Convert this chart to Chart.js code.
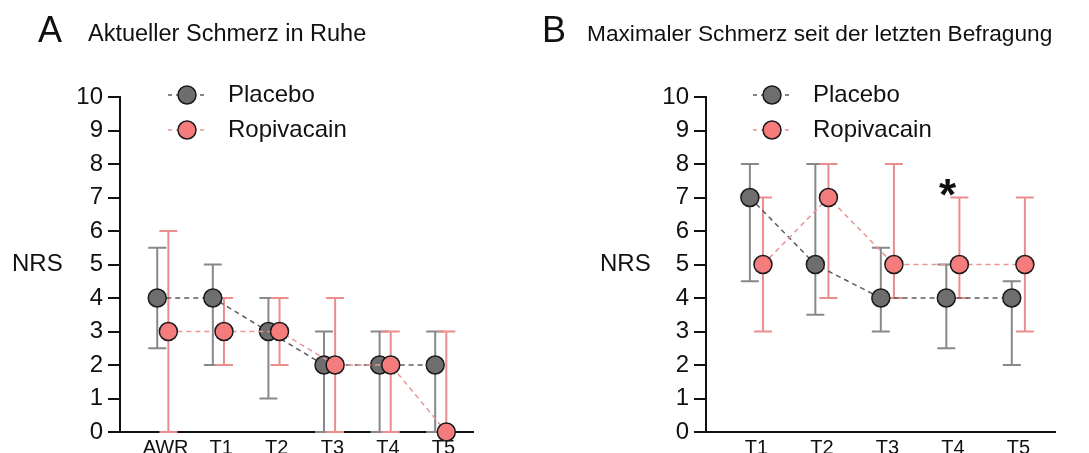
<!DOCTYPE html>
<html>
<head>
<meta charset="utf-8">
<script src="https://cdn.jsdelivr.net/npm/chart.js@4/dist/chart.umd.min.js"></script>
<style>
    body { margin: 0; background: #fff; }
    #wrap { position: relative; width: 1089px; height: 453px; overflow: hidden; }
    canvas { position: absolute; top: 0; }
</style>
</head>
<body>
<div id="wrap">
    <canvas id="chartA" width="540" height="453" style="left:0"></canvas>
    <canvas id="chartB" width="549" height="453" style="left:540px"></canvas>
</div>
<script>
// Panel A - Aktueller Schmerz in Ruhe
const catsA = ['AWR', 'T1', 'T2', 'T3', 'T4', 'T5'];
const placeboA = [4, 4, 3, 2, 2, 2];
const placeboALow = [2.5, 2, 1, 0, 0, 0];
const placeboAHigh = [5.5, 5, 4, 3, 3, 3];
const ropiA = [3, 3, 3, 2, 2, 0];
const ropiALow = [0, 2, 2, 0, 0, 0];
const ropiAHigh = [6, 4, 4, 4, 3, 3];

// Panel B - Maximaler Schmerz seit der letzten Befragung
const catsB = ['T1', 'T2', 'T3', 'T4', 'T5'];
const placeboB = [7, 5, 4, 4, 4];
const placeboBLow = [4.5, 3.5, 3, 2.5, 2];
const placeboBHigh = [8, 8, 5.5, 5, 4.5];
const ropiB = [5, 7, 5, 5, 5];
const ropiBLow = [3, 4, 4, 4, 3];
const ropiBHigh = [7, 8, 8, 7, 7];
const starsB = [[3, 7.35]]; // significance mark: category index, NRS level

const yTicks = [0, 1, 2, 3, 4, 5, 6, 7, 8, 9, 10];

const FONT = "'Liberation Sans', Arial, sans-serif";
const INK = '#111';
const placeboStyle = { fill: '#6e6e6e', line: '#5c5c5c', err: '#888888' };
const ropiStyle = { fill: '#f47c7c', line: '#e99595', err: '#eb8d8d' };

// draws error bars under the points
const errorBars = {
    id: 'errorBars',
    beforeDatasetsDraw(chart) {
        const ctx = chart.ctx;
        const y = chart.scales.y;
        chart.data.datasets.forEach((ds, di) => {
            const meta = chart.getDatasetMeta(di);
            ctx.save();
            ctx.strokeStyle = ds.errColor;
            ctx.lineWidth = 2;
            meta.data.forEach((pt, i) => {
                const lo = y.getPixelForValue(ds.errLow[i]);
                const hi = y.getPixelForValue(ds.errHigh[i]);
                ctx.beginPath();
                ctx.moveTo(pt.x, lo);
                ctx.lineTo(pt.x, hi);
                ctx.moveTo(pt.x - 9, lo);
                ctx.lineTo(pt.x + 9, lo);
                ctx.moveTo(pt.x - 9, hi);
                ctx.lineTo(pt.x + 9, hi);
                ctx.stroke();
            });
            ctx.restore();
        });
    }
};

// titles, NRS label, legend, asterisk
const decorations = {
    id: 'decorations',
    afterDraw(chart, args, opts) {
        const ctx = chart.ctx;
        const x = chart.scales.x;
        const y = chart.scales.y;
        ctx.save();
        ctx.fillStyle = INK;
        ctx.textBaseline = 'alphabetic';
        ctx.textAlign = 'left';
        ctx.font = `36px ${FONT}`;
        ctx.fillText(opts.letter, opts.letterX, 42);
        ctx.font = `${opts.titleSize}px ${FONT}`;
        ctx.fillText(opts.title, opts.titleX, 41);

        ctx.font = `24px ${FONT}`;
        ctx.textBaseline = 'middle';
        ctx.fillText('NRS', opts.nrsX, y.getPixelForValue(5));

        // legend
        chart.data.datasets.forEach((ds, i) => {
            const ly = 95 + i * 35;
            ctx.save();
            ctx.strokeStyle = ds.borderColor;
            ctx.lineWidth = 1.5;
            ctx.setLineDash([4, 4]);
            ctx.beginPath();
            ctx.moveTo(opts.legendX - 19, ly);
            ctx.lineTo(opts.legendX + 20, ly);
            ctx.stroke();
            ctx.setLineDash([]);
            ctx.beginPath();
            ctx.arc(opts.legendX, ly, 9, 0, Math.PI * 2);
            ctx.fillStyle = ds.pointBackgroundColor;
            ctx.fill();
            ctx.strokeStyle = '#1a1a1a';
            ctx.lineWidth = 1.5;
            ctx.stroke();
            ctx.restore();
            ctx.font = `24px ${FONT}`;
            ctx.fillText(ds.label, opts.legendX + 41, ly);
        });

        (opts.stars || []).forEach(s => {
            const px = x.getPixelForValue(s[0] - 0.08);
            const py = y.getPixelForValue(s[1]);
            ctx.font = `bold 44px ${FONT}`;
            ctx.textAlign = 'center';
            ctx.textBaseline = 'alphabetic';
            ctx.fillText('*', px, py + 24);
        });
        ctx.restore();
    }
};

function makePanel(id, cats, series, cfg) {
    const datasets = series.map(s => ({
        label: s.label,
        data: s.values.map((v, i) => ({ x: i + s.shift, y: v })),
        errLow: s.low,
        errHigh: s.high,
        errColor: s.style.err,
        borderColor: s.style.line,
        borderWidth: 1.5,
        borderDash: [5, 4],
        pointBackgroundColor: s.style.fill,
        pointBorderColor: '#1a1a1a',
        pointBorderWidth: 1.5,
        pointRadius: 9,
        showLine: true,
        clip: false,
        order: s.order
    }));

    return new Chart(document.getElementById(id), {
        type: 'scatter',
        data: { datasets },
        options: {
            responsive: false,
            animation: false,
            events: [],
            layout: { padding: { left: 0, right: cfg.rightPad, top: 97, bottom: 0 } },
            plugins: {
                legend: { display: false },
                tooltip: { enabled: false },
                decorations: cfg.deco
            },
            scales: {
                x: {
                    type: 'linear',
                    min: cfg.xMin,
                    max: cfg.xMax,
                    afterFit: s => { s.height = 21; },
                    afterBuildTicks: s => { s.ticks = cats.map((c, i) => ({ value: i + cfg.tickShift })); },
                    ticks: {
                        callback: (v, i) => cats[i],
                        font: { size: 20, family: FONT },
                        color: INK,
                        padding: 4,
                        maxRotation: 0,
                        autoSkip: false
                    },
                    grid: { display: false, drawTicks: false },
                    border: { display: true, color: INK, width: 2 }
                },
                y: {
                    min: 0,
                    max: 10,
                    afterFit: s => { s.width = cfg.yWidth; },
                    afterBuildTicks: s => { s.ticks = yTicks.map(v => ({ value: v })); },
                    ticks: { font: { size: 24, family: FONT }, color: INK, padding: 5 },
                    grid: { drawOnChartArea: false, drawTicks: true, tickLength: 12, color: INK, lineWidth: 2 },
                    border: { color: INK, width: 2 }
                }
            }
        },
        plugins: [errorBars, decorations]
    });
}

makePanel('chartA', catsA, [
    { label: 'Placebo', values: placeboA, low: placeboALow, high: placeboAHigh, style: placeboStyle, shift: -0.1, order: 1 },
    { label: 'Ropivacain', values: ropiA, low: ropiALow, high: ropiAHigh, style: ropiStyle, shift: 0.1, order: 0 }
], {
    xMin: -0.77, xMax: 5.58, tickShift: 0.05, yWidth: 120, rightPad: 67,
    deco: { letter: 'A', letterX: 38, title: 'Aktueller Schmerz in Ruhe', titleX: 88, titleSize: 23.5, nrsX: 12, legendX: 187 }
});

makePanel('chartB', catsB, [
    { label: 'Placebo', values: placeboB, low: placeboBLow, high: placeboBHigh, style: placeboStyle, shift: -0.1, order: 1 },
    { label: 'Ropivacain', values: ropiB, low: ropiBLow, high: ropiBHigh, style: ropiStyle, shift: 0.1, order: 0 }
], {
    xMin: -0.77, xMax: 4.56, tickShift: 0, yWidth: 166, rightPad: 34,
    deco: { letter: 'B', letterX: 2, title: 'Maximaler Schmerz seit der letzten Befragung', titleX: 47, titleSize: 22.7, nrsX: 60, legendX: 232, stars: starsB }
});
</script>
</body>
</html>
